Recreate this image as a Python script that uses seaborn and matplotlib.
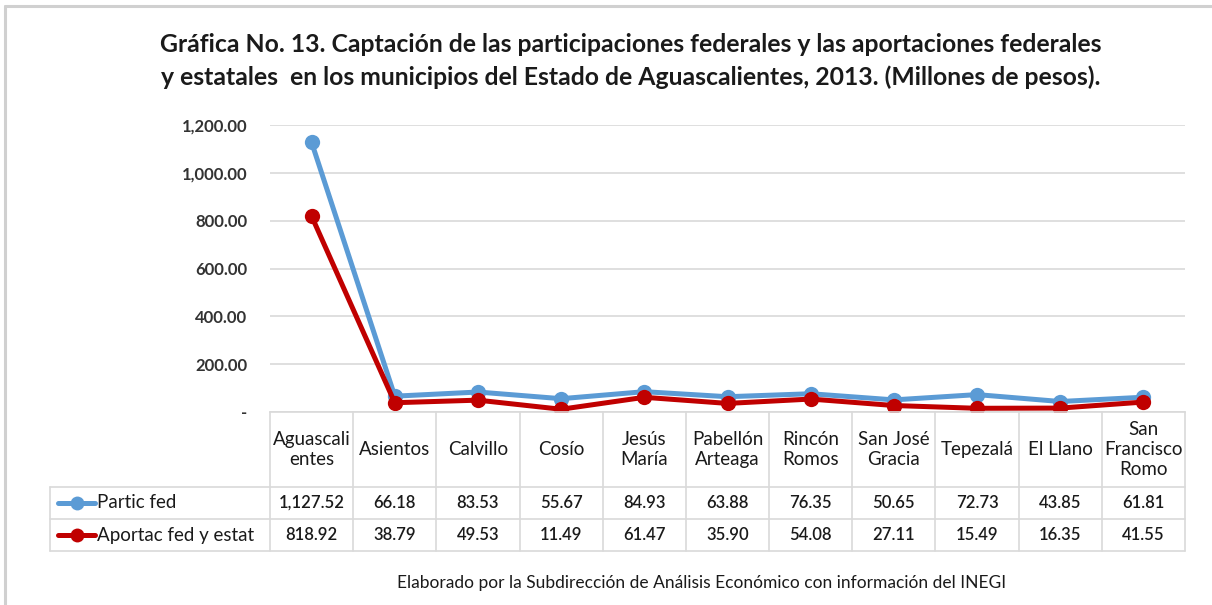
import numpy as np
import pandas as pd
import matplotlib
matplotlib.use('Agg')
import matplotlib.pyplot as plt
from matplotlib.lines import Line2D
import seaborn as sns

# data
municipios = ['Aguascali\nentes', 'Asientos', 'Calvillo', 'Cosío', 'Jesús\nMaría',
              'Pabellón\nArteaga', 'Rincón\nRomos', 'San José\nGracia', 'Tepezalá',
              'El Llano', 'San\nFrancisco\nRomo']
partic_fed = [1127.52, 66.18, 83.53, 55.67, 84.93, 63.88, 76.35, 50.65, 72.73, 43.85, 61.81]
aportac_fed_estat = [818.92, 38.79, 49.53, 11.49, 61.47, 35.90, 54.08, 27.11, 15.49, 16.35, 41.55]
series_names = ['Partic fed', 'Aportac fed y estat']
y_ticks = [0, 200, 400, 600, 800, 1000, 1200]

blue = '#5B9BD5'
red = '#C00000'
grid_c = '#D9D9D9'
txt_c = '#1a1a1a'

sns.set_theme(style='white')
plt.rcParams['font.family'] = ['Lato', 'DejaVu Sans']

df = pd.DataFrame({'x': np.arange(len(municipios)),
                   series_names[0]: partic_fed,
                   series_names[1]: aportac_fed_estat})
long_df = df.melt(id_vars='x', var_name='serie', value_name='valor')

W, H = 1212, 605
fig = plt.figure(figsize=(W / 100, H / 100), dpi=100)
fig.patch.set_facecolor('white')

# plot area in pixel coords
x0, x1 = 270, 1185
y_top, y_bot = 125, 412
ax = fig.add_axes([x0 / W, 1 - y_bot / H, (x1 - x0) / W, (y_bot - y_top) / H])

sns.lineplot(data=long_df, x='x', y='valor', hue='serie',
             palette=[blue, red], marker='o', markersize=11,
             markeredgewidth=0, linewidth=3.6, legend=False, ax=ax)

ax.set_xlim(-0.5, len(municipios) - 0.5)
ax.set_ylim(0, 1200)
ax.set_yticks(y_ticks)
ax.set_yticklabels(['-' if v == 0 else f'{v:,.2f}' for v in y_ticks],
                   fontsize=12, fontweight='bold', color='#333333')
ax.tick_params(axis='y', length=0, pad=16.5)
ax.set_xticks([])
ax.set_xlabel('')
ax.set_ylabel('')
ax.grid(axis='y', color=grid_c, linewidth=1.2)
ax.set_axisbelow(True)
for s in ['top', 'right', 'left']:
    ax.spines[s].set_visible(False)
ax.spines['bottom'].set_color(grid_c)
ax.spines['bottom'].set_linewidth(1.2)

# data table under the plot
def fx(px):
    return px / W

def fy(py):
    return 1 - py / H

col_w = (x1 - x0) / len(municipios)
tbl_left = 50
row_hdr = (412, 487)
row1 = (487, 519)
row2 = (519, 551)

lkw = dict(color=grid_c, linewidth=1.2, transform=fig.transFigure)
for k in range(len(municipios) + 1):
    xx = x0 + k * col_w
    fig.add_artist(Line2D([fx(xx), fx(xx)], [fy(row_hdr[0]), fy(row2[1])], **lkw))
fig.add_artist(Line2D([fx(tbl_left), fx(tbl_left)], [fy(row1[0]), fy(row2[1])], **lkw))
for yy in [row1[0], row2[0], row2[1]]:
    fig.add_artist(Line2D([fx(tbl_left), fx(x1)], [fy(yy), fy(yy)], **lkw))

for i, name in enumerate(municipios):
    cx = x0 + (i + 0.5) * col_w
    fig.text(fx(cx), fy(sum(row_hdr) / 2), name, ha='center', va='center',
             fontsize=13.5, color=txt_c, linespacing=1.2)
    fig.text(fx(cx), fy(sum(row1) / 2), f'{partic_fed[i]:,.2f}', ha='center',
             va='center', fontsize=12, fontweight='semibold', color=txt_c)
    fig.text(fx(cx), fy(sum(row2) / 2), f'{aportac_fed_estat[i]:,.2f}', ha='center',
             va='center', fontsize=12, fontweight='semibold', color=txt_c)

# legend keys inside the table
for (r0, r1), name, c in [(row1, series_names[0], blue), (row2, series_names[1], red)]:
    ym = fy((r0 + r1) / 2)
    fig.add_artist(Line2D([fx(58), fx(95)], [ym, ym], color=c, linewidth=3.6,
                          transform=fig.transFigure))
    fig.add_artist(Line2D([fx(76.5)], [ym], color=c, marker='o', markersize=10,
                          markeredgewidth=0, transform=fig.transFigure))
    fig.text(fx(97), ym, name, ha='left', va='center', fontsize=13.5,
             color=txt_c)

# title and footer
fig.text(fx(631), fy(45), 'Gráfica No. 13. Captación de las participaciones federales y las aportaciones federales',
         ha='center', va='center', fontsize=17.8, fontweight='bold', color=txt_c)
fig.text(fx(631), fy(77), 'y estatales  en los municipios del Estado de Aguascalientes, 2013. (Millones de pesos).',
         ha='center', va='center', fontsize=17.8, fontweight='bold', color=txt_c)
fig.text(fx(702), fy(583), 'Elaborado por la Subdirección de Análisis Económico con información del INEGI',
         ha='center', va='center', fontsize=12.5, color=txt_c)

# outer frame (top and left edges)
bkw = dict(color='#D0D0D0', linewidth=2.2, transform=fig.transFigure)
fig.add_artist(Line2D([fx(5), fx(W)], [fy(6), fy(6)], **bkw))
fig.add_artist(Line2D([fx(5), fx(5)], [fy(6), fy(H)], **bkw))

fig.savefig('out.png', dpi=100, facecolor='white')
